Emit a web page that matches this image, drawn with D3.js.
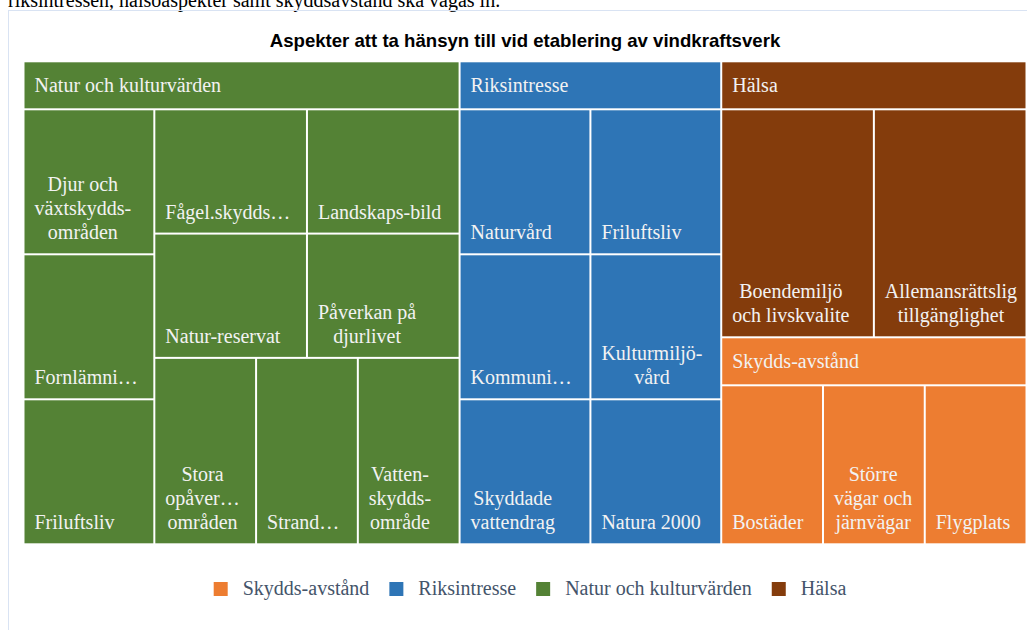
<!DOCTYPE html>
<html>
<head>
<meta charset="utf-8">
<script src="https://cdnjs.cloudflare.com/ajax/libs/d3/7.8.5/d3.min.js"></script>
<style>
  body { margin: 0; background: #fff; }
  svg { display: block; }
</style>
</head>
<body>
<script>
var introText = "riksintressen, hälsoaspekter samt skyddsavstånd ska vägas in.";
var titleText = "Aspekter att ta hänsyn till vid etablering av vindkraftsverk";

// groups (top level of the treemap)
var groupNames = ["Natur och kulturvärden", "Riksintresse", "Hälsa", "Skydds-avstånd"];
var groupColors = ["#548235", "#2e75b6", "#843c0c", "#ed7d31"];

// leaves, "\n" = line break as shown in the chart
var naturLabels = ["Djur och\nväxtskydds-\nområden", "Fornlämni…", "Friluftsliv", "Fågel.skydds…",
  "Landskaps-bild", "Natur-reservat", "Påverkan på\ndjurlivet", "Stora\nopåver…\nområden",
  "Strand…", "Vatten-\nskydds-\nområde"];
var naturValues = [1, 1, 1, 1, 1, 1, 1, 1, 1, 1];

var riksLabels = ["Naturvård", "Friluftsliv", "Kommuni…", "Kulturmiljö-\nvård", "Skyddade\nvattendrag", "Natura 2000"];
var riksValues = [1, 1, 1, 1, 1, 1];

var halsaLabels = ["Boendemiljö\noch livskvalite", "Allemansrättslig\ntillgänglighet"];
var halsaValues = [2, 2];

var skyddLabels = ["Bostäder", "Större\nvägar och\njärnvägar", "Flygplats"];
var skyddValues = [1, 1, 1];

var legendOrder = ["Skydds-avstånd", "Riksintresse", "Natur och kulturvärden", "Hälsa"];

window.onload = function() {
  var margin = {top: 62.3, left: 24.5};
  var width = 1001;
  var height = 481;
  var headerH = 48;
  var serif = "'Liberation Serif', 'Times New Roman', serif";

  var svg = d3.select("body").append("svg")
    .attr("width", 1027)
    .attr("height", 630);

  // text of the document above the chart (clipped by the top edge)
  svg.append("text")
    .attr("x", 8).attr("y", 7)
    .attr("font-family", serif).attr("font-size", 20)
    .attr("fill", "#000")
    .text(introText);

  // chart frame
  svg.append("rect")
    .attr("x", 8.5).attr("y", 10.5)
    .attr("width", 1040).attr("height", 640)
    .attr("fill", "none").attr("stroke", "#d9e3f3");

  svg.append("text")
    .attr("x", 525).attr("y", 47)
    .attr("text-anchor", "middle")
    .attr("font-family", "'Liberation Sans', Arial, sans-serif")
    .attr("font-weight", "bold").attr("font-size", 18.6)
    .attr("fill", "#000")
    .text(titleText);

  var leafLabels = [naturLabels, riksLabels, halsaLabels, skyddLabels];
  var leafValues = [naturValues, riksValues, halsaValues, skyddValues];

  var data = {
    name: "root",
    children: groupNames.map(function(g, i) {
      return {
        name: g,
        children: leafLabels[i].map(function(l, j) {
          return {name: l, value: leafValues[i][j]};
        })
      };
    })
  };

  var color = d3.scaleOrdinal().domain(groupNames).range(groupColors);

  var root = d3.hierarchy(data)
    .sum(function(d) { return d.value; })
    .sort(function(a, b) { return b.value - a.value; });

  d3.treemap()
    .tile(d3.treemapSquarify.ratio(1))
    .size([width, height])
    .paddingInner(2)
    .paddingTop(function(d) { return d.depth === 1 ? headerH : 0; })(root);

  var chart = svg.append("g")
    .attr("transform", "translate(" + margin.left + "," + margin.top + ")");

  // group banners
  var heads = chart.selectAll("g.head")
    .data(root.children)
    .enter().append("g").attr("class", "head");

  heads.append("rect")
    .attr("x", function(d) { return d.x0; })
    .attr("y", function(d) { return d.y0; })
    .attr("width", function(d) { return d.x1 - d.x0; })
    .attr("height", headerH - 2)
    .attr("fill", function(d) { return color(d.data.name); });

  heads.append("text")
    .attr("x", function(d) { return d.x0 + 10; })
    .attr("y", function(d) { return d.y0 + 30; })
    .attr("font-family", serif).attr("font-size", 20)
    .attr("fill", "#f2f2f2")
    .text(function(d) { return d.data.name; });

  // leaves
  var cells = chart.selectAll("g.cell")
    .data(root.leaves())
    .enter().append("g").attr("class", "cell");

  cells.append("rect")
    .attr("x", function(d) { return d.x0; })
    .attr("y", function(d) { return d.y0; })
    .attr("width", function(d) { return d.x1 - d.x0; })
    .attr("height", function(d) { return d.y1 - d.y0; })
    .attr("fill", function(d) { return color(d.parent.data.name); });

  cells.each(function(d) {
    var cell = d3.select(this);
    var lines = d.data.name.split("\n");
    var texts = lines.map(function(line, i) {
      return cell.append("text")
        .attr("y", d.y1 - 14 - (lines.length - 1 - i) * 24)
        .attr("text-anchor", "middle")
        .attr("font-family", serif).attr("font-size", 20)
        .attr("fill", "#f2f2f2")
        .text(line);
    });
    var blockW = d3.max(texts, function(t) { return t.node().getComputedTextLength(); });
    texts.forEach(function(t) { t.attr("x", d.x0 + 10 + blockW / 2); });
  });

  // legend
  var legend = svg.append("g");
  var lx = 0;
  legendOrder.forEach(function(name) {
    legend.append("rect")
      .attr("x", lx).attr("y", -7)
      .attr("width", 14).attr("height", 14)
      .attr("fill", color(name));
    var t = legend.append("text")
      .attr("x", lx + 29).attr("y", 6)
      .attr("font-family", serif).attr("font-size", 20)
      .attr("fill", "#44546a")
      .text(name);
    lx += 29 + t.node().getComputedTextLength() + 20;
  });
  lx -= 20;
  legend.attr("transform", "translate(" + (530 - lx / 2) + ",589)");
};
</script>
</body>
</html>
